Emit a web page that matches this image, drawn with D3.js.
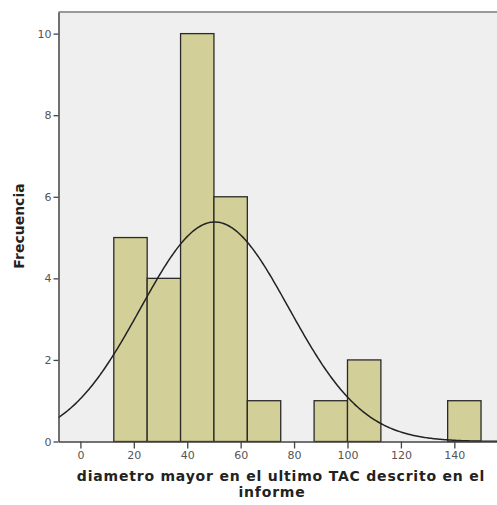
<!DOCTYPE html>
<html lang="es">
<head>
<meta charset="UTF-8">
<script src="https://cdn.jsdelivr.net/npm/d3@7"></script>
<style>
  body { margin: 0; background: #fff; font-family: "DejaVu Sans", sans-serif; }
  .tick text { fill: #555; font-size: 11px; }
</style>
</head>
<body>
<svg id="chart" width="497" height="505"></svg>
<script>
// histogram bins (lower edge) and counts, bin width 12.5
const binStarts = [12.5, 25, 37.5, 50, 62.5, 75, 87.5, 100, 112.5, 125, 137.5];
const counts = [5, 4, 10, 6, 1, 0, 1, 2, 0, 0, 1];
const binWidth = 12.5;
const xTicks = [0, 20, 40, 60, 80, 100, 120, 140];
const yTicks = [0, 2, 4, 6, 8, 10];
// normal curve parameters
const mean = 50.3;
const sd = 27.8;
const n = 30;

const svg = d3.select('#chart');
const plotL = 58.5, plotR = 500, plotT = 12, plotB = 441.5;

const x = d3.scaleLinear().domain([-8.2, 157.1]).range([plotL, plotR]);
const y = d3.scaleLinear().domain([0, 10.53]).range([plotB, plotT]);

// plot background
svg.append('rect')
  .attr('x', plotL).attr('y', plotT)
  .attr('width', plotR - plotL).attr('height', plotB - plotT)
  .attr('fill', '#efefef');

// bars
svg.selectAll('.bar')
  .data(binStarts.map((b, i) => ({ b, c: counts[i] })).filter(d => d.c > 0))
  .enter()
  .append('rect')
  .attr('class', 'bar')
  .attr('x', d => x(d.b))
  .attr('y', d => y(d.c))
  .attr('width', d => x(d.b + binWidth) - x(d.b))
  .attr('height', d => y(0) - y(d.c))
  .attr('fill', '#d3cf98')
  .attr('stroke', '#2a2a2a')
  .attr('stroke-width', 1.3);

// normal curve
const pts = d3.range(-8.2, 157.1, 0.5).map(v => [v,
  n * binWidth / (sd * Math.sqrt(2 * Math.PI)) * Math.exp(-0.5 * ((v - mean) / sd) ** 2)]);
svg.append('path')
  .datum(pts)
  .attr('fill', 'none')
  .attr('stroke', '#222')
  .attr('stroke-width', 1.5)
  .attr('d', d3.line().x(d => x(d[0])).y(d => y(d[1])));

// frame top line
svg.append('line')
  .attr('x1', plotL).attr('x2', plotR)
  .attr('y1', plotT).attr('y2', plotT)
  .attr('stroke', '#999').attr('stroke-width', 2);

// axes
const xAxis = svg.append('g')
  .attr('transform', `translate(0,${plotB})`)
  .call(d3.axisBottom(x).tickValues(xTicks).tickSize(7).tickPadding(3).tickSizeOuter(0));
const yAxis = svg.append('g')
  .attr('transform', `translate(${plotL},0)`)
  .call(d3.axisLeft(y).tickValues(yTicks).tickSize(5).tickPadding(2).tickSizeOuter(0));
[xAxis, yAxis].forEach(g => {
  g.select('.domain').attr('stroke', '#444').attr('stroke-width', 1.5);
  g.selectAll('.tick line').attr('stroke', '#444').attr('stroke-width', 1.3);
  g.selectAll('.tick text').attr('font-family', '"DejaVu Sans", sans-serif');
});

// axis titles
svg.append('text')
  .attr('x', 281).attr('y', 481)
  .attr('text-anchor', 'middle')
  .attr('font-size', 14).attr('font-weight', 'bold').attr('fill', '#222')
  .attr('letter-spacing', 0.8)
  .text('diametro mayor en el ultimo TAC descrito en el');
svg.append('text')
  .attr('x', 272).attr('y', 497)
  .attr('text-anchor', 'middle')
  .attr('font-size', 14).attr('font-weight', 'bold').attr('fill', '#222')
  .attr('letter-spacing', 0.8)
  .text('informe');
svg.append('text')
  .attr('transform', 'translate(24,226) rotate(-90)')
  .attr('text-anchor', 'middle')
  .attr('font-size', 14).attr('font-weight', 'bold').attr('fill', '#222')
  .text('Frecuencia');
</script>
</body>
</html>
